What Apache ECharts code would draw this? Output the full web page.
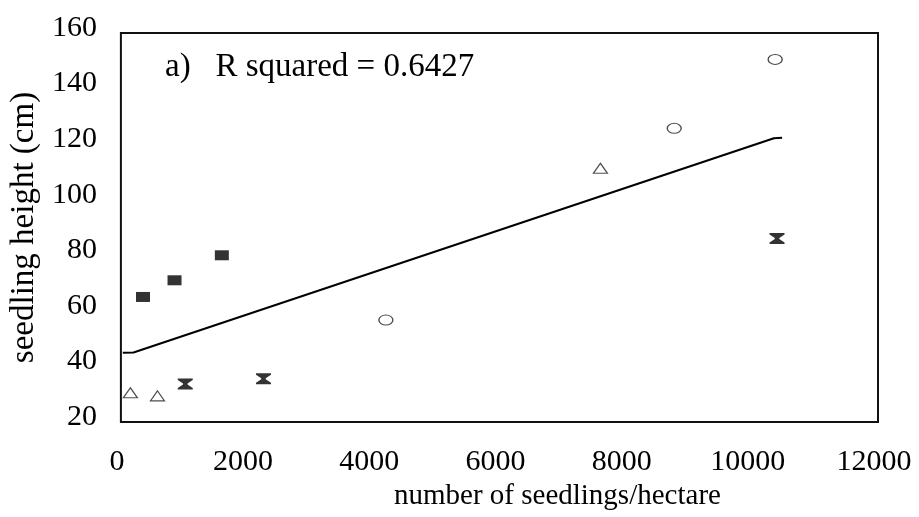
<!DOCTYPE html>
<html>
<head>
<meta charset="utf-8">
<script src="https://cdn.jsdelivr.net/npm/echarts@6/dist/echarts.min.js"></script>
<style>
  html, body { margin: 0; padding: 0; background: #fff; }
  #chart { width: 919px; height: 517px; }
</style>
</head>
<body>
<div id="chart"></div>
<script>
// x = seedlings per hectare, y = seedling height (cm)
var squareX = [350, 850, 1600];
var squareY = [65, 71, 80];
var triangleX = [150, 580, 7600];
var triangleY = [30.5, 29.4, 111.3];
var bowtieX = [1020, 2260, 10400];
var bowtieY = [33.7, 35.6, 86];
var circleX = [4200, 8770, 10370];
var circleY = [56.7, 125.7, 150.5];
// fitted line
var trendX = [30, 200, 10350, 10480];
var trendY = [44.9, 45, 122.1, 122.3];

var xTicks = [0, 2000, 4000, 6000, 8000, 10000, 12000];
var yTicks = [20, 40, 60, 80, 100, 120, 140, 160];

function pairs(xs, ys) {
    return xs.map(function (x, i) { return [x, ys[i]]; });
}

var serif = '"Liberation Serif", "DejaVu Serif", serif';
var bowtie = 'path://M0,0 L10,0 L10,1.5 L6.5,5 L6.5,6 L10,9.5 L10,11 L0,11 L0,9.5 L3.5,6 L3.5,5 L0,1.5 Z';
var ellipse = 'path://M0,5 A7,5 0 1,1 14,5 A7,5 0 1,1 0,5 Z';

var chart = echarts.init(document.getElementById('chart'));
var option = {
    backgroundColor: '#fff',
    animation: false,
    grid: {
        left: 119, right: 41, top: 33, bottom: 95,
        show: true,
        borderColor: '#111',
        borderWidth: 2
    },
    graphic: [{
        type: 'text',
        left: 165,
        top: 51,
        style: {
            text: 'a)   R squared = 0.6427',
            font: '33px ' + serif,
            fill: '#000'
        }
    }],
    xAxis: {
        type: 'value',
        min: xTicks[0],
        max: xTicks[xTicks.length - 1],
        interval: 2000,
        name: 'number of seedlings/hectare',
        nameLocation: 'middle',
        nameGap: 52,
        nameTextStyle: {
            fontFamily: serif, fontSize: 29, color: '#000',
            padding: [0, 0, 0, 116]
        },
        axisLine: { show: false },
        axisTick: { show: false },
        splitLine: { show: false },
        axisLabel: {
            fontFamily: serif, fontSize: 30, color: '#000', margin: 25,
            padding: [0, 8, 0, 0],
            formatter: function (v) { return String(v); }
        }
    },
    yAxis: {
        type: 'value',
        min: yTicks[0],
        max: yTicks[yTicks.length - 1],
        interval: 20,
        name: 'seedling height (cm)',
        nameLocation: 'middle',
        nameGap: 77,
        nameTextStyle: { fontFamily: serif, fontSize: 33, color: '#000' },
        axisLine: { show: false },
        axisTick: { show: false },
        splitLine: { show: false },
        axisLabel: {
            fontFamily: serif, fontSize: 30, color: '#000', margin: 24,
            verticalAlign: 'bottom',
            lineHeight: 10
        }
    },
    series: [
        {
            type: 'line',
            data: pairs(trendX, trendY),
            showSymbol: false,
            lineStyle: { color: '#000', width: 2 },
            z: 1
        },
        {
            type: 'scatter',
            data: pairs(squareX, squareY),
            symbol: 'rect',
            symbolSize: [14, 10],
            itemStyle: { color: '#000' }
        },
        {
            type: 'scatter',
            data: pairs(triangleX, triangleY),
            symbol: 'triangle',
            symbolSize: [14, 10],
            itemStyle: { color: '#fff', borderColor: '#222', borderWidth: 1.2 }
        },
        {
            type: 'scatter',
            data: pairs(bowtieX, bowtieY),
            symbol: bowtie,
            symbolSize: [15, 11],
            itemStyle: { color: '#000' }
        },
        {
            type: 'scatter',
            data: pairs(circleX, circleY),
            symbol: ellipse,
            symbolSize: [14, 10],
            itemStyle: { color: '#fff', borderColor: '#222', borderWidth: 1.2 }
        }
    ]
};
chart.setOption(option);
</script>
</body>
</html>
